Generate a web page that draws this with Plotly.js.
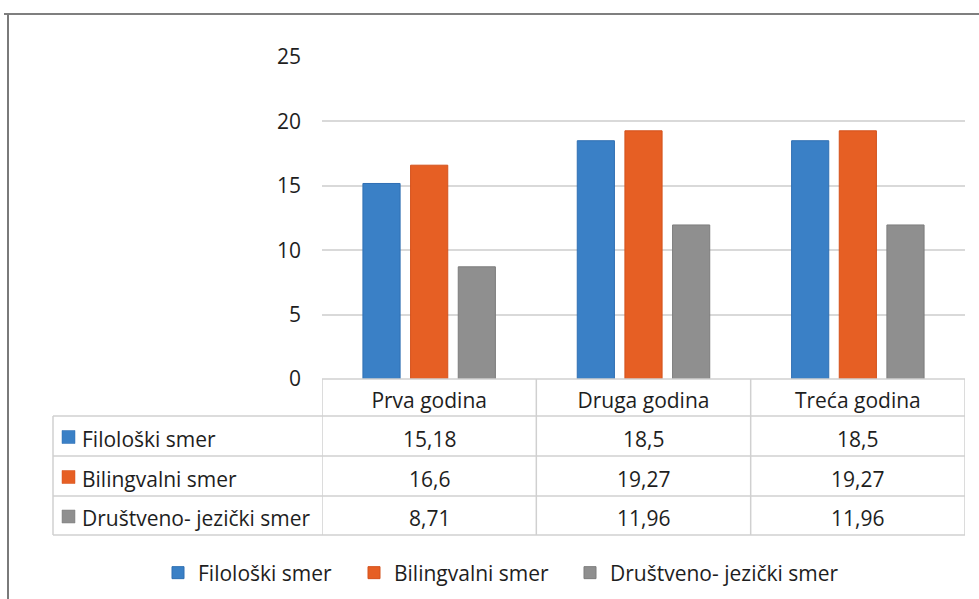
<!DOCTYPE html>
<html>
<head>
<meta charset="utf-8">
<script src="https://cdn.plot.ly/plotly-3.0.1.min.js"></script>
<style>
html,body{margin:0;padding:0;background:#fff;}
#chart{width:979px;height:599px;}
</style>
</head>
<body>
<div id="chart"></div>
<script>
// ---- data ----
const categories = ["Prva godina", "Druga godina", "Treća godina"];
const seriesNames = ["Filološki smer", "Bilingvalni smer", "Društveno- jezički smer"];
const filoloski = [15.18, 18.5, 18.5];
const bilingvalni = [16.6, 19.27, 19.27];
const drustveno = [8.71, 11.96, 11.96];
const yTicks = [0, 5, 10, 15, 20, 25];

// ---- styles ----
const colors = ["#3a80c6", "#e65f24", "#8f8f8f"];
const borders = ["#2f6fb3", "#d4521c", "#7d7d7d"];
const legendWidths = [151, 171, 240];
const FONT = "Open Sans, Noto Sans, sans-serif";
const FS = 21;
const TXT = "#1e1e1e";
const W = 979, H = 599;
const M = {l: 322, r: 14, t: 57, b: 220, autoexpand: false};
const PW = W - M.l - M.r, PH = H - M.t - M.b;
const px = x => (x - M.l) / PW;            // pixel x -> paper x
const py = y => (H - M.b - y) / PH;        // pixel y -> paper y

const seriesValues = [filoloski, bilingvalni, drustveno];

const traces = seriesValues.map((vals, i) => ({
  type: "bar",
  name: seriesNames[i],
  x: categories,
  y: vals,
  legendwidth: legendWidths[i],
  marker: {color: colors[i], line: {color: borders[i], width: 1}},
  hoverinfo: "skip"
}));

// table geometry (pixels)
const tableLeft = 53, headerTop = 379, rowTops = [416, 456, 496], tableBottom = 535;
const lineCol = "#d0d0d0";
const shapes = [];
const annotations = [];

// horizontal lines
shapes.push({type:"line", xref:"paper", yref:"paper", x0:0, x1:1, y0:py(headerTop), y1:py(headerTop), line:{color:lineCol,width:1.5}});
rowTops.concat([tableBottom]).forEach(y => {
  shapes.push({type:"line", xref:"paper", yref:"paper", x0:px(tableLeft), x1:1, y0:py(y), y1:py(y), line:{color:lineCol,width:1.5}});
});
// vertical lines
shapes.push({type:"line", xref:"paper", yref:"paper", x0:px(tableLeft), x1:px(tableLeft), y0:py(rowTops[0]), y1:py(tableBottom), line:{color:lineCol,width:1.5}});
for (let k = 0; k <= categories.length; k++) {
  shapes.push({type:"line", xref:"x", yref:"paper", x0:k-0.5, x1:k-0.5, y0:py(headerTop), y1:py(tableBottom), line:{color:lineCol,width:1.5}});
}
// row labels + values
seriesNames.forEach((name, i) => {
  const top = rowTops[i];
  const bot = i + 1 < rowTops.length ? rowTops[i+1] : tableBottom;
  const cy = (top + bot) / 2 + 1;
  shapes.push({type:"rect", xref:"paper", yref:"paper", x0:px(62), x1:px(75), y0:py(cy+6.5), y1:py(cy-6.5), fillcolor:colors[i], line:{color:borders[i], width:0.5}});
  annotations.push({xref:"paper", yref:"paper", x:px(80), y:py(cy+1.5), xanchor:"left", yanchor:"middle", text:name, showarrow:false, font:{family:FONT,size:FS,color:TXT}});
  seriesValues[i].forEach((v, j) => {
    annotations.push({xref:"x", yref:"paper", x:categories[j], y:py(cy+1.5), xanchor:"center", yanchor:"middle", text:String(v).replace(".", ","), showarrow:false, font:{family:FONT,size:FS,color:TXT}});
  });
});
// outer frame (top and left)
shapes.push({type:"line", xref:"paper", yref:"paper", x0:px(4), x1:px(979), y0:py(14), y1:py(14), line:{color:"#555555",width:1.5}});
shapes.push({type:"line", xref:"paper", yref:"paper", x0:px(8), x1:px(8), y0:py(14), y1:py(599), line:{color:"#7a7a7a",width:2}});

const layout = {
  width: W, height: H,
  margin: M,
  paper_bgcolor: "#ffffff",
  plot_bgcolor: "#ffffff",
  font: {family: FONT, size: FS, color: TXT},
  barmode: "group",
  bargap: 0.333,
  bargroupgap: 0.22,
  showlegend: true,
  legend: {orientation: "h", x: px(158), xanchor: "left", y: py(573), yanchor: "middle",
           font: {family: FONT, size: FS, color: TXT}, itemclick: false, itemdoubleclick: false},
  xaxis: {type: "category", range: [-0.5, 2.5], showgrid: false, zeroline: false, showline: false,
          ticks: "", tickfont: {family: FONT, size: FS, color: TXT}, ticklabelstandoff: 7, fixedrange: true},
  yaxis: {range: [0, 25], tickvals: yTicks, showgrid: true, gridcolor: "#d9d9d9", gridwidth: 2,
          zeroline: false, showline: false, ticks: "", ticklabelstandoff: 20,
          tickfont: {family: FONT, size: FS, color: TXT}, fixedrange: true},
  shapes: shapes,
  annotations: annotations
};

Plotly.newPlot("chart", traces, layout, {displayModeBar: false, staticPlot: true});
</script>
</body>
</html>
